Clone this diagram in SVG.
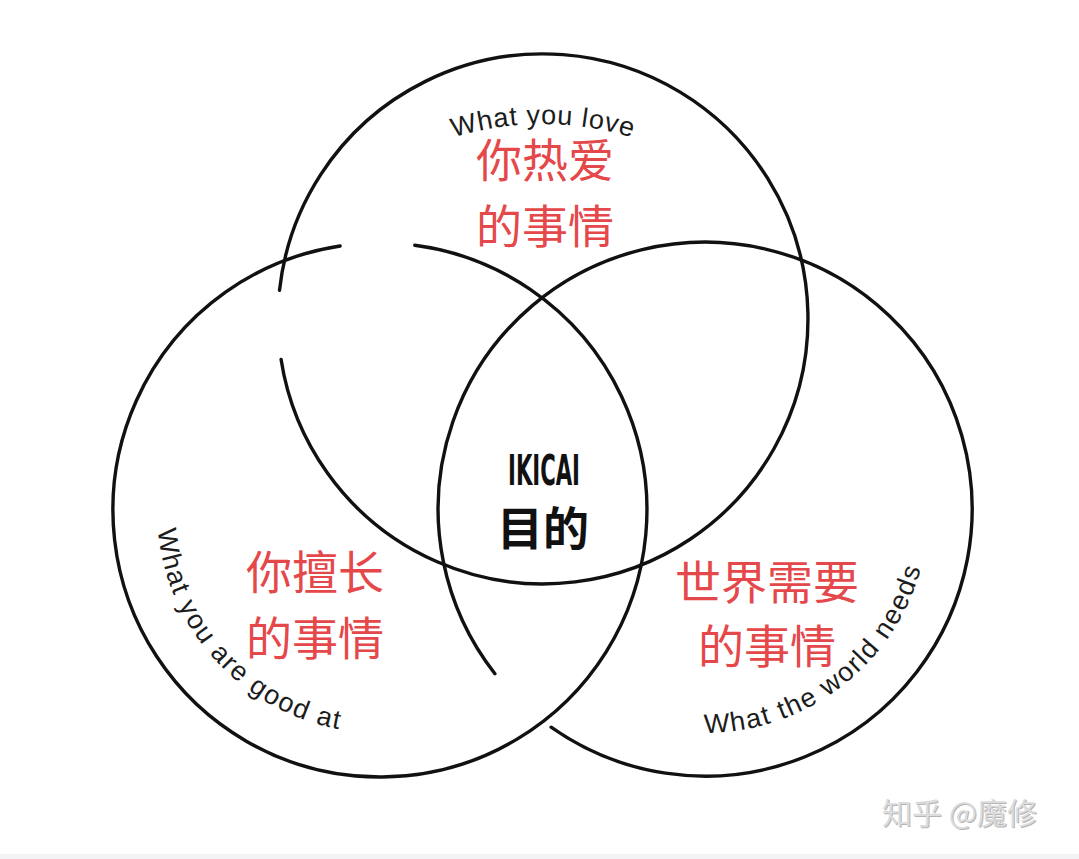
<svg xmlns="http://www.w3.org/2000/svg" width="1079" height="859" viewBox="0 0 1079 859">
  <style>
    .ring { fill: none; stroke: #111; stroke-width: 3.4; stroke-linecap: round; }
    .en { font-family: "Liberation Sans", Arial, sans-serif; font-size: 27px; fill: #1c1c1c; letter-spacing: 1.6px; }
    .cn { font-family: "Noto Sans CJK SC", "Noto Sans CJK TC", sans-serif; font-size: 46px; fill: #e5484a; text-anchor: middle; }
    .wm { font-family: "Noto Sans CJK SC", sans-serif; font-size: 30px; }
  </style>
  <defs>
    <path id="pLove" d="M 243 424 A 300 300 0 0 1 843 424"/>
    <path id="pGood" d="M 157.1 517.8 A 223 223 0 0 0 418.7 729.6"/>
    <path id="pNeeds" d="M 685.5 732.1 A 224 224 0 0 0 928.1 528.5"/>
  </defs>
  <rect x="0" y="0" width="1079" height="859" fill="#ffffff"/>
  <rect x="0" y="854" width="1079" height="5" fill="#f3f3f6"/>

  <g id="connectors">
    <path id="ring-top" class="ring" d="M 279.5 290.4 A 265 265 0 1 1 281.1 359.5"/>
    <path id="ring-left" class="ring" d="M 414.8 245.3 A 267 267 0 1 1 340.1 246.0"/>
    <path id="ring-right" class="ring" d="M 494.9 673.7 A 267 267 0 1 1 551.1 727.2"/>
  </g>

  <g id="node-love">
    <text class="en" style="letter-spacing:0.8px"><textPath href="#pLove" startOffset="50%" text-anchor="middle">What you love</textPath></text>
    <text class="cn" x="545" y="177">你热爱</text>
    <text class="cn" x="545" y="243">的事情</text>
  </g>

  <g id="node-good">
    <text class="en"><textPath href="#pGood" startOffset="12">What you are good at</textPath></text>
    <text class="cn" x="315" y="589">你擅长</text>
    <text class="cn" x="315" y="655">的事情</text>
  </g>

  <g id="node-needs">
    <text class="en"><textPath href="#pNeeds" startOffset="19">What the world needs</textPath></text>
    <text class="cn" x="767" y="599">世界需要</text>
    <text class="cn" x="767" y="663">的事情</text>
  </g>

  <g id="node-ikigai">
    <text x="508" y="485" font-family="'Liberation Sans Narrow', 'DejaVu Sans Condensed', 'Liberation Sans', sans-serif" font-weight="bold" font-size="42" fill="#111" textLength="72" lengthAdjust="spacingAndGlyphs">IKICAI</text>
    <text x="543" y="545" font-family="'Noto Sans CJK SC', sans-serif" font-weight="bold" font-size="46" fill="#111" text-anchor="middle">目的</text>
  </g>

  <g id="watermark">
    <text class="wm" x="883" y="825" fill="#b4b4b4">知乎 @魔修</text>
    <text class="wm" x="882" y="824" fill="#dcdcdc">知乎 @魔修</text>
  </g>
</svg>
